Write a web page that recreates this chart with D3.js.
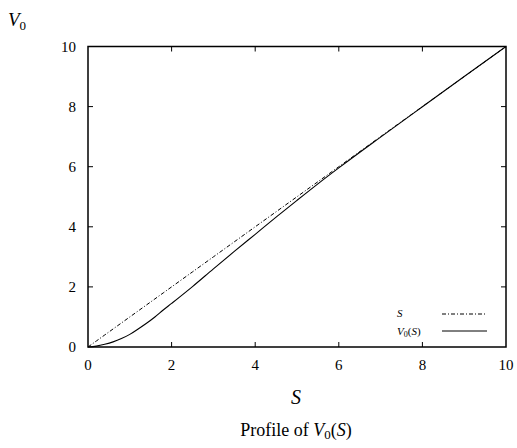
<!DOCTYPE html>
<html><head><meta charset="utf-8">
<script src="https://cdn.jsdelivr.net/npm/d3@7"></script>
<style>body{margin:0;background:#fff}svg{display:block}</style>
</head><body>
<svg id="c" width="517" height="448" font-family="'Liberation Serif', 'Times New Roman', Times, 'DejaVu Serif', serif"></svg>
<script>
const sValues = [0,0.2,0.4,0.6,0.8,1.0,1.2,1.4,1.6,1.8,2.0,2.5,3.0,3.5,4.0,4.5,5.0,5.5,6.0,7,8,9,10];
const v0Values = [0,0.03,0.09,0.17,0.28,0.42,0.60,0.79,1.00,1.23,1.45,2.01,2.60,3.18,3.75,4.32,4.88,5.43,5.96,6.985,7.995,9,10];
const xTicks = [0,2,4,6,8,10];
const yTicks = [0,2,4,6,8,10];

const svg = d3.select("#c");
const L=88,R=506,T=46.5,B=347;
const x = d3.scaleLinear().domain([0,10]).range([L,R]);
const y = d3.scaleLinear().domain([0,10]).range([B,T]);

const g = svg.append("g");
const tk=5;
xTicks.forEach(t=>{
  if(t>0&&t<10){
    g.append("line").attr("x1",x(t)).attr("x2",x(t)).attr("y1",B).attr("y2",B-tk).attr("stroke","#000");
    g.append("line").attr("x1",x(t)).attr("x2",x(t)).attr("y1",T).attr("y2",T+tk).attr("stroke","#000");
  }
  g.append("text").attr("x",x(t)).attr("y",B+23).attr("text-anchor","middle").attr("font-size",15).text(t);
});
yTicks.forEach(t=>{
  if(t>0&&t<10){
    g.append("line").attr("x1",L).attr("x2",L+tk).attr("y1",y(t)).attr("y2",y(t)).attr("stroke","#000");
    g.append("line").attr("x1",R).attr("x2",R-tk).attr("y1",y(t)).attr("y2",y(t)).attr("stroke","#000");
  }
  g.append("text").attr("x",L-12).attr("y",y(t)+5).attr("text-anchor","end").attr("font-size",15).text(t);
});

const data = sValues.map((s,i)=>({s, v:v0Values[i]}));
const lineS = d3.line().x(d=>x(d.s)).y(d=>y(d.s));
const lineV = d3.line().x(d=>x(d.s)).y(d=>y(d.v)).curve(d3.curveMonotoneX);
g.append("path").datum(data).attr("d",lineS).attr("fill","none").attr("stroke","#000").attr("stroke-width",1).attr("stroke-dasharray","4,2,1,2");
g.append("path").datum(data).attr("d",lineV).attr("fill","none").attr("stroke","#000").attr("stroke-width",1.1);

g.append("rect").attr("x",L).attr("y",T).attr("width",R-L).attr("height",B-T).attr("fill","none").attr("stroke","#000").attr("stroke-width",1.5);

const lg = g.append("g");
lg.append("text").attr("x",397).attr("y",317).attr("font-size",11).attr("font-style","italic").text("S");
lg.append("line").attr("x1",442).attr("x2",487).attr("y1",314).attr("y2",314).attr("stroke","#000").attr("stroke-dasharray","4,2,1,2");
const lt = lg.append("text").attr("x",397).attr("y",335).attr("font-size",11);
lt.append("tspan").attr("font-style","italic").text("V");
lt.append("tspan").attr("font-size",8).attr("dy",2).text("0");
lt.append("tspan").attr("dy",-2).text("(");
lt.append("tspan").attr("font-style","italic").text("S");
lt.append("tspan").text(")");
lg.append("line").attr("x1",442).attr("x2",487).attr("y1",331).attr("y2",331).attr("stroke","#000");

const yl = svg.append("text").attr("x",8).attr("y",26).attr("font-size",19);
yl.append("tspan").attr("font-style","italic").text("V");
yl.append("tspan").attr("font-size",13).attr("dy",4).text("0");
svg.append("text").attr("x",296).attr("y",404).attr("text-anchor","middle").attr("font-size",20).attr("font-style","italic").text("S");
const tt = svg.append("text").attr("x",296).attr("y",436).attr("text-anchor","middle").attr("font-size",18);
tt.append("tspan").text("Profile of ");
tt.append("tspan").attr("font-style","italic").text("V");
tt.append("tspan").attr("font-size",13).attr("dy",3).text("0");
tt.append("tspan").attr("dy",-3).text("(");
tt.append("tspan").attr("font-style","italic").text("S");
tt.append("tspan").text(")");
</script>
</body></html>
